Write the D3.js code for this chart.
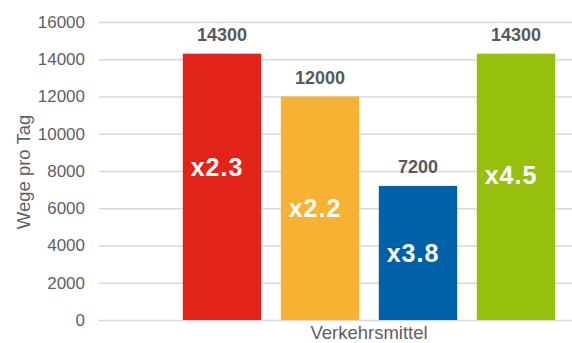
<!DOCTYPE html>
<html>
<head>
<meta charset="utf-8">
<script src="https://cdn.jsdelivr.net/npm/d3@7"></script>
<style>
  html, body { margin: 0; padding: 0; background: #fff; }
  svg { display: block; font-family: "Liberation Sans", Arial, sans-serif; }
</style>
</head>
<body>
<svg id="chart" width="572" height="343"></svg>
<script>
// Trips per day by mode of transport
const categories = ["Auto", "ÖV", "Velo", "Fuss"];
const values = [14300, 12000, 7200, 14300];
const factors = ["x2.3", "x2.2", "x3.8", "x4.5"];
const colors = ["#e2231a", "#f7b133", "#0060a8", "#97bf0d"];
const yTicks = [0, 2000, 4000, 6000, 8000, 10000, 12000, 14000, 16000];

// vertical nudge (px) of each factor label relative to the bar's middle
const factorLift = [-20, 0, 0, -12];

const svg = d3.select("#chart");
const gridLeft = 99, gridRight = 572;
const plotTop = 22, plotBottom = 320;

const y = d3.scaleLinear().domain([0, 16000]).range([plotBottom, plotTop]);
const x = d3.scaleBand()
  .domain(categories)
  .range([173, 565])
  .paddingInner(0.2)
  .paddingOuter(0.1);

// horizontal gridlines and tick labels
const yAxis = d3.axisLeft(y)
  .tickValues(yTicks)
  .tickSize(-(gridRight - gridLeft))
  .tickPadding(14)
  .tickFormat(d3.format("d"));

const gAxis = svg.append("g")
  .attr("transform", `translate(${gridLeft},0)`)
  .call(yAxis);
gAxis.select(".domain").remove();
gAxis.selectAll(".tick line").attr("stroke", "#d9d9d9").attr("stroke-width", 1.5);
gAxis.selectAll(".tick text")
  .attr("fill", "#5f5f5f")
  .style("font-size", "17px")
  .attr("font-family", "Liberation Sans, Arial, sans-serif");

// bars
const data = categories.map((c, i) => ({ c, v: values[i], f: factors[i], col: colors[i], lift: factorLift[i] }));

svg.append("g").selectAll("rect")
  .data(data)
  .join("rect")
  .attr("x", d => x(d.c))
  .attr("y", d => y(d.v))
  .attr("width", x.bandwidth())
  .attr("height", d => y(0) - y(d.v))
  .attr("fill", d => d.col);

// value labels above bars
svg.append("g").selectAll("text")
  .data(data)
  .join("text")
  .attr("x", d => x(d.c) + x.bandwidth() / 2)
  .attr("y", d => y(d.v) - 12.5)
  .attr("text-anchor", "middle")
  .attr("fill", "#595959")
  .style("font-size", "18px")
  .style("font-weight", "bold")
  .text(d => d.v);

// growth factors inside bars
svg.append("g").selectAll("text")
  .data(data)
  .join("text")
  .attr("x", d => x(d.c) + x.bandwidth() / 2 - 5)
  .attr("y", d => (y(d.v) + y(0)) / 2 + d.lift + 9)
  .attr("text-anchor", "middle")
  .attr("fill", "#ffffff")
  .style("font-size", "25px")
  .style("font-weight", "bold")
  .style("letter-spacing", "1px")
  .text(d => d.f);

// axis titles
svg.append("text")
  .attr("transform", "translate(30,172) rotate(-90)")
  .attr("text-anchor", "middle")
  .attr("fill", "#5f5f5f")
  .style("font-size", "18.5px")
  .text("Wege pro Tag");

svg.append("text")
  .attr("x", (x.range()[0] + x.range()[1]) / 2)
  .attr("y", 339)
  .attr("text-anchor", "middle")
  .attr("fill", "#5f5f5f")
  .style("font-size", "18.5px")
  .text("Verkehrsmittel");
</script>
</body>
</html>
